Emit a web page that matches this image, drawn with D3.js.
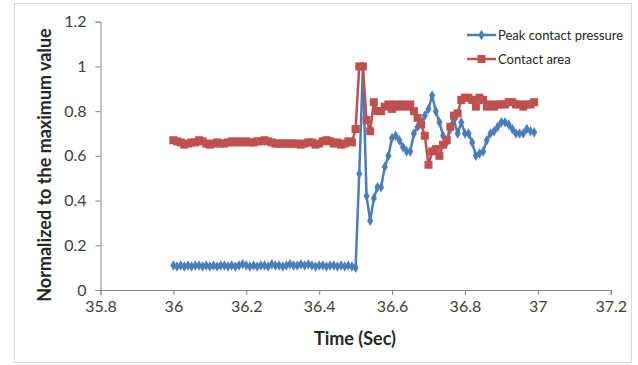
<!DOCTYPE html>
<html><head><meta charset="utf-8">
<script src="https://cdn.jsdelivr.net/npm/d3@7"></script>
<style>body{margin:0;background:#fff;} svg{display:block;}</style>
</head><body>
<script>
// Time stamps 36.00 .. 36.99 (s)
const times = d3.range(100).map(i => +(36 + i * 0.01).toFixed(2));
const pressure = [
 0.11,0.105,0.11,0.105,0.11,0.105,0.11,0.11,0.105,0.11,
 0.105,0.11,0.105,0.11,0.11,0.105,0.11,0.105,0.11,0.115,
 0.11,0.105,0.11,0.105,0.11,0.11,0.105,0.115,0.11,0.11,
 0.105,0.11,0.115,0.11,0.11,0.115,0.11,0.115,0.11,0.105,
 0.11,0.11,0.105,0.11,0.11,0.105,0.11,0.105,0.11,0.105,
 0.10,0.52,1.0,0.42,0.31,0.41,0.46,0.46,0.55,0.60,
 0.68,0.69,0.67,0.64,0.62,0.62,0.70,0.73,0.75,0.78,
 0.81,0.87,0.80,0.75,0.69,0.66,0.72,0.76,0.70,0.75,
 0.70,0.70,0.66,0.60,0.61,0.62,0.67,0.70,0.71,0.73,
 0.75,0.75,0.74,0.72,0.70,0.70,0.70,0.72,0.71,0.705
];
const area = [
 0.67,0.665,0.66,0.65,0.655,0.66,0.66,0.67,0.665,0.655,
 0.65,0.655,0.66,0.655,0.655,0.66,0.665,0.66,0.665,0.66,
 0.665,0.66,0.66,0.665,0.665,0.67,0.665,0.66,0.655,0.655,
 0.655,0.655,0.655,0.655,0.655,0.65,0.655,0.66,0.66,0.65,
 0.655,0.665,0.67,0.665,0.655,0.66,0.65,0.655,0.665,0.66,
 0.72,1.0,1.0,0.76,0.71,0.84,0.80,0.80,0.82,0.83,
 0.81,0.83,0.82,0.83,0.82,0.83,0.80,0.77,0.74,0.69,
 0.56,0.62,0.63,0.60,0.65,0.67,0.73,0.78,0.79,0.85,
 0.86,0.86,0.85,0.82,0.86,0.85,0.82,0.83,0.82,0.83,
 0.83,0.83,0.84,0.84,0.83,0.83,0.82,0.83,0.83,0.84
];
const xTicks = [35.8,36,36.2,36.4,36.6,36.8,37,37.2];
const yTicks = [0,0.2,0.4,0.6,0.8,1,1.2];
const seriesNames = ["Peak contact pressure","Contact area"];
const colors = ["#4A7EBB","#C0504D"];

const W = 638, H = 365;
const svg = d3.select("body").append("svg").attr("width", W).attr("height", H);
svg.append("rect").attr("x",14.5).attr("y",3.5).attr("width",617).attr("height",359)
  .attr("fill","#fff").attr("stroke","#d9d9d9").attr("stroke-width",1);

const x = d3.scaleLinear().domain([35.8,37.2]).range([100.5,610.7]);
const y = d3.scaleLinear().domain([0,1.2]).range([290,21.7]);
const font = "Lato, 'Open Sans', sans-serif";

const xAxis = svg.append("g").attr("transform",`translate(0,${y(0)})`)
  .call(d3.axisBottom(x).tickValues(xTicks).tickSize(5).tickPadding(6).tickFormat(d3.format("")));
const yAxis = svg.append("g").attr("transform",`translate(${x(35.8)},0)`)
  .call(d3.axisLeft(y).tickValues(yTicks).tickSize(5).tickPadding(9).tickFormat(d3.format("")));
[xAxis,yAxis].forEach(g=>{
  g.select(".domain").attr("stroke","#868686");
  g.selectAll(".tick line").attr("stroke","#868686");
  g.selectAll(".tick text").attr("fill","#404040").style("font-family",font).style("font-size","16px");
});

const line = d3.line().x((d,i)=>x(times[i])).y(d=>y(d));
const data = [pressure, area];
data.forEach((vals,k)=>{
  svg.append("path").datum(vals).attr("d",line).attr("fill","none")
    .attr("stroke",colors[k]).attr("stroke-width",2.5).attr("stroke-linejoin","round");
});
// markers
svg.append("g").selectAll("path").data(pressure).join("path")
  .attr("transform",(d,i)=>`translate(${x(times[i])},${y(d)})`)
  .attr("d",d3.symbol(d3.symbolDiamond,32)).attr("fill",colors[0]);
svg.append("g").selectAll("rect").data(area).join("rect")
  .attr("x",(d,i)=>x(times[i])-4).attr("y",d=>y(d)-4)
  .attr("width",8).attr("height",8).attr("fill",colors[1]);

// legend
const leg = svg.append("g");
seriesNames.forEach((n,k)=>{
  const ly = 35 + k*24;
  leg.append("line").attr("x1",467).attr("x2",496).attr("y1",ly).attr("y2",ly)
    .attr("stroke",colors[k]).attr("stroke-width",2.5);
  if(k===0) leg.append("path").attr("transform",`translate(481.5,${ly})`)
    .attr("d",d3.symbol(d3.symbolDiamond,32)).attr("fill",colors[0]);
  else leg.append("rect").attr("x",477.5).attr("y",ly-4).attr("width",8).attr("height",8).attr("fill",colors[1]);
  leg.append("text").attr("x",498).attr("y",ly).attr("dy","0.35em")
    .style("font-family",font).style("font-size","13px").attr("fill","#262626").text(n);
});

// axis titles
svg.append("text").attr("x",355).attr("y",339).attr("dy","0.35em").attr("text-anchor","middle")
  .style("font-family",font).style("font-size","18px").style("font-weight","bold").attr("fill","#262626")
  .text("Time (Sec)");
svg.append("text").attr("transform","translate(45,165) rotate(-90)").attr("dy","0.35em").attr("text-anchor","middle")
  .style("font-family",font).style("font-size","18px").style("font-weight","bold").attr("fill","#262626")
  .text("Normalized to the maximum value");
</script>
</body></html>
